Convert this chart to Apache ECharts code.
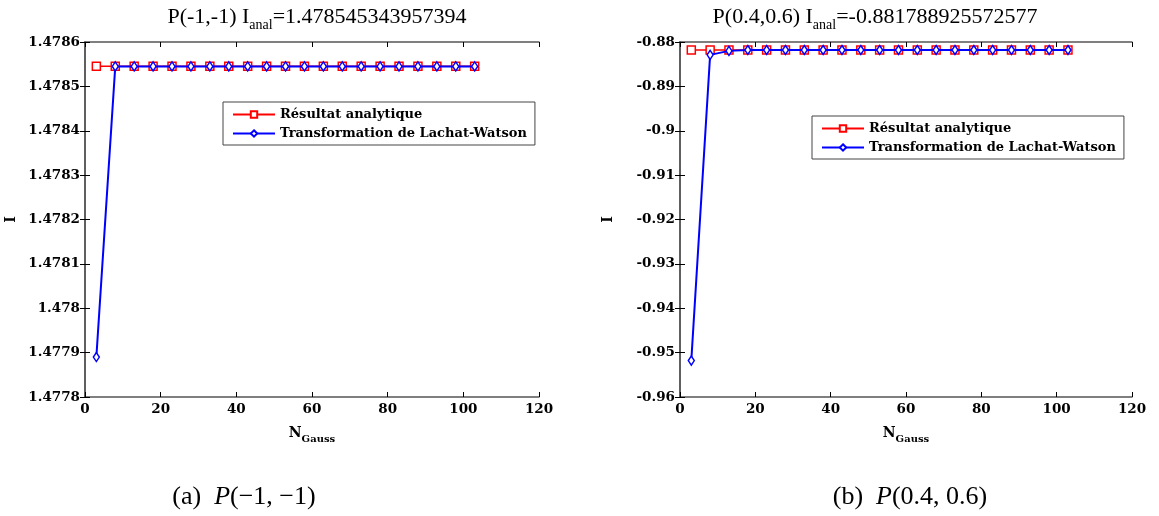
<!DOCTYPE html>
<html><head><meta charset="utf-8">
<script src="https://cdn.jsdelivr.net/npm/echarts@6/dist/echarts.min.js"></script>
<style>html,body{margin:0;padding:0;background:#fff}#c{width:1159px;height:516px}</style>
</head><body><div id="c"></div>
<script>
const nGauss = [3,8,13,18,23,28,33,38,43,48,53,58,63,68,73,78,83,88,93,98,103];
const analA = 1.478545343957394;
const analB = -0.881788925572577;
const lachatA = [1.47789,1.478545,1.478545,1.478545,1.478545,1.478545,1.478545,1.478545,1.478545,1.478545,1.478545,1.478545,1.478545,1.478545,1.478545,1.478545,1.478545,1.478545,1.478545,1.478545,1.478545];
const lachatB = [-0.9518,-0.8829,-0.8820,-0.8818,-0.8818,-0.8818,-0.8818,-0.8818,-0.8818,-0.8818,-0.8818,-0.8818,-0.8818,-0.8818,-0.8818,-0.8818,-0.8818,-0.8818,-0.8818,-0.8818,-0.8818];
const nameRed = 'Résultat analytique';
const nameBlue = 'Transformation de Lachat-Watson';

const FB = 'DejaVu Serif';
const FT = 'Liberation Serif';
const chart = echarts.init(document.getElementById('c'));
const pairs = (ys) => nGauss.map((x,i)=>[x, ys[i]]);
const constPairs = (v) => nGauss.map(x=>[x, v]);
const axCol = '#555';
const labelStyle = {fontFamily: FB, fontWeight: 'bold', fontSize: 13.5, color: '#000'};
function xAxes(gi){
  return [{
    gridIndex: gi, type:'value', min:0, max:120, interval:20, position:'bottom',
    axisLine:{lineStyle:{color:axCol, width:1.5}}, axisTick:{inside:true, length:5, lineStyle:{color:'#000'}},
    splitLine:{show:false}, axisLabel:Object.assign({margin:5}, labelStyle),
    name:'N{sub|Gauss}', nameLocation:'middle', nameGap:26,
    nameTextStyle:{fontFamily:FB, fontWeight:'bold', fontSize:14, color:'#000', rich:{sub:{fontFamily:FB, fontWeight:'bold', fontSize:10, padding:[11,0,0,0]}}}
  },{
    gridIndex: gi, type:'value', min:0, max:120, interval:20, position:'top',
    axisLine:{lineStyle:{color:axCol, width:1.5}}, axisTick:{inside:true, length:5, lineStyle:{color:'#000'}},
    splitLine:{show:false}, axisLabel:{show:false}
  }];
}
function yAxes(gi, min, max, interval, dec, gap){
  return [{
    gridIndex: gi, type:'value', min, max, interval, position:'left',
    axisLine:{lineStyle:{color:axCol, width:1.5}}, axisTick:{inside:true, length:5, lineStyle:{color:'#000'}},
    splitLine:{show:false}, axisLabel:Object.assign({margin:5, formatter: v => String(+v.toFixed(dec))}, labelStyle),
    name:'I', nameLocation:'middle', nameGap:gap, nameRotate:90,
    nameTextStyle:{fontFamily:FB, fontWeight:'bold', fontSize:14, color:'#000'}
  },{
    gridIndex: gi, type:'value', min, max, interval, position:'right',
    axisLine:{lineStyle:{color:axCol, width:1.5}}, axisTick:{inside:true, length:5, lineStyle:{color:'#000'}},
    splitLine:{show:false}, axisLabel:{show:false}
  }];
}
const redSeries = (xi, yi, data) => ({
  name:nameRed, type:'line', xAxisIndex:xi, yAxisIndex:yi, data,
  symbol:'rect', symbolSize:8, showAllSymbol:true,
  itemStyle:{color:'#fff', borderColor:'#ff0000', borderWidth:1.5},
  lineStyle:{color:'#ff0000', width:1.5}, animation:false, z:2
});
const blueSeries = (xi, yi, data) => ({
  name:nameBlue, type:'line', xAxisIndex:xi, yAxisIndex:yi, data,
  symbol:'diamond', symbolSize:[6,9], showAllSymbol:true,
  itemStyle:{color:'#fff', borderColor:'#0000ff', borderWidth:1.5},
  lineStyle:{color:'#0000ff', width:2}, animation:false, z:3
});
const legendBase = {
  orient:'vertical', itemWidth:42, itemHeight:8, itemGap:6,
  backgroundColor:'#fff', borderColor:'#444', borderWidth:1, padding:[6,8,5,9],
  textStyle:{fontFamily:FB, fontWeight:'bold', fontSize:13, color:'#000'},
  data:[{name:nameRed, itemStyle:{color:'#fff', borderColor:'#ff0000'}, lineStyle:{color:'#ff0000'}},
        {name:nameBlue, itemStyle:{color:'#fff', borderColor:'#0000ff'}, lineStyle:{color:'#0000ff'}}],
  selectedMode:false
};
const titleStyle = {fontFamily:FT, fontWeight:'normal', fontSize:22, color:'#000',
  rich:{sub:{fontFamily:FT, fontWeight:'normal', fontSize:14, padding:[16,0,0,0]}}};
const capStyle = {fontFamily:FT, fontWeight:'normal', fontSize:26, color:'#000', rich:{i:{fontFamily:FT, fontStyle:'italic', fontSize:26}}};
chart.setOption({
  backgroundColor:'#fff',
  animation:false,
  title:[
    {text:'P(-1,-1) I{sub|anal}=1.478545343957394', left:312, top:-3, textAlign:'center', textStyle:titleStyle},
    {text:'P(0.4,0.6) I{sub|anal}=-0.881788925572577', left:870, top:-3, textAlign:'center', textStyle:titleStyle},
    {text:'(a)  {i|P}(−1, −1)', left:239, top:479, textAlign:'center', textStyle:capStyle},
    {text:'(b)  {i|P}(0.4, 0.6)', left:905, top:479, textAlign:'center', textStyle:capStyle}
  ],
  legend:[
    Object.assign({left:223, top:102}, legendBase),
    Object.assign({left:812, top:116}, legendBase)
  ],
  grid:[
    {left:85, right:620, top:42, bottom:119},
    {left:680, right:27, top:42, bottom:119}
  ],
  xAxis:[...xAxes(0), ...xAxes(1)],
  yAxis:[...yAxes(0, 1.4778, 1.4786, 0.0001, 4, 67), ...yAxes(1, -0.96, -0.88, 0.01, 2, 65)],
  series:[
    redSeries(0,0,constPairs(analA)),
    blueSeries(0,0,pairs(lachatA)),
    redSeries(2,2,constPairs(analB)),
    blueSeries(2,2,pairs(lachatB))
  ]
});
</script></body></html>
